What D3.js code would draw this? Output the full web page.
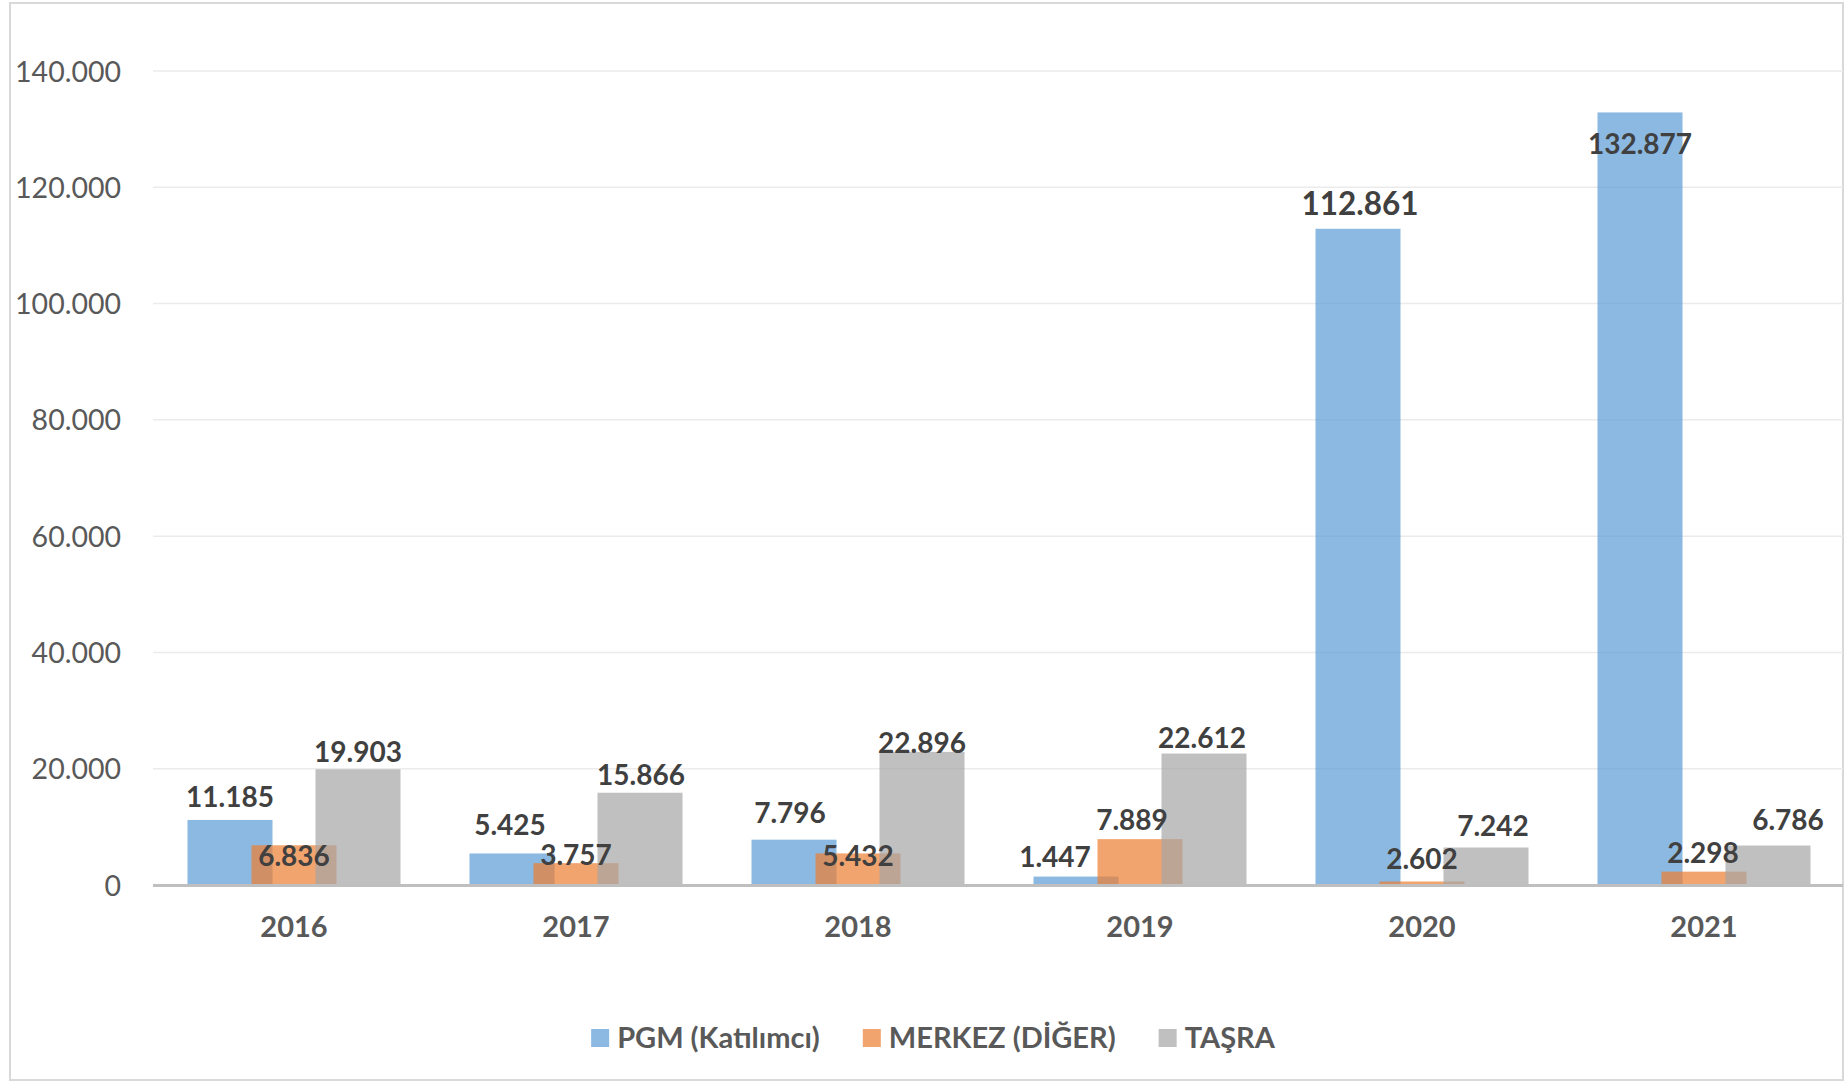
<!DOCTYPE html>
<html>
<head>
<meta charset="utf-8">
<style>
    body { margin: 0; background: #fff; }
    svg { display: block; font-family: Lato, "Open Sans", sans-serif; }
</style>
</head>
<body>
<svg width="1845" height="1081"></svg>

<script src="https://d3js.org/d3.v7.min.js"></script>
<script>
    // data
    var years = ["2016", "2017", "2018", "2019", "2020", "2021"];
    var seriesNames = ["PGM (Katılımcı)", "MERKEZ (DİĞER)", "TAŞRA"];
    // bar heights as drawn in the picture
    var pgm = [11185, 5425, 7796, 1447, 112861, 132877];
    var merkez = [6836, 3757, 5432, 7889, 600, 2298];
    var tasra = [19903, 15866, 22896, 22612, 6450, 6786];
    // printed data labels
    var pgmLabels = [11185, 5425, 7796, 1447, 112861, 132877];
    var merkezLabels = [6836, 3757, 5432, 7889, 2602, 2298];
    var tasraLabels = [19903, 15866, 22896, 22612, 7242, 6786];
    var yTicks = [0, 20000, 40000, 60000, 80000, 100000, 120000, 140000];

    // label nudges (px) relative to bar top centre: [dx, dy of baseline]
    var labelNudge = [
        [[0, -13], [-2, -18], [-4, -17], [-21, -10], [2, -14], [0, 42]],
        [[0, 21], [0, 2], [0, 13], [-8, -9], [0, -13], [-1, -9]],
        [[0, -7], [1, -8], [0, 1], [-2, -6], [7, -11], [20, -16]]
    ];

    var colors = ["#5B9BD5", "#ED7D31", "#A5A5A5"];

    var svg = d3.select("svg"),
        margin = { left: 153, right: 0, top: 71, bottom: 196 },
        W = +svg.attr("width"),
        H = +svg.attr("height");

    var nf = d3.formatLocale({ decimal: ",", thousands: ".", grouping: [3], currency: ["", ""] }).format(",d");

    // chart frame
    svg.append("rect")
        .attr("x", 10).attr("y", 3)
        .attr("width", W - 12).attr("height", H - 4)
        .attr("fill", "#fff")
        .attr("stroke", "#D9D9D9")
        .attr("stroke-width", 2);

    var x0 = d3.scaleBand()
        .domain(years)
        .range([margin.left, W - margin.right])
        .paddingInner(0).paddingOuter(0);

    var barW = 85;
    var x1 = d3.scalePoint()
        .domain(d3.range(seriesNames.length))
        .range([-64, 64]);

    var y = d3.scaleLinear()
        .domain([0, 140000])
        .range([H - margin.bottom, margin.top]);

    // gridlines
    svg.append("g")
        .selectAll("line")
        .data(yTicks.slice(1))
        .enter().append("line")
        .attr("x1", margin.left).attr("x2", W - 2)
        .attr("y1", function (d) { return y(d); })
        .attr("y2", function (d) { return y(d); })
        .attr("stroke", "#EBEBEB")
        .attr("stroke-width", 1.5);

    // y axis labels
    var yAxis = d3.axisLeft(y).tickValues(yTicks).tickFormat(nf).tickSize(0).tickPadding(0);
    var ya = svg.append("g")
        .attr("transform", "translate(121,1)")
        .call(yAxis);
    ya.select(".domain").remove();
    ya.selectAll("text")
        .attr("font-family", "Lato")
        .attr("font-size", 28.5)
        .attr("fill", "#595959");

    // bars
    var series = [pgm, merkez, tasra];
    var labels = [pgmLabels, merkezLabels, tasraLabels];

    series.forEach(function (vals, s) {
        svg.append("g")
            .selectAll("rect")
            .data(vals)
            .enter().append("rect")
            .attr("x", function (d, i) { return x0(years[i]) + x0.bandwidth() / 2 + x1(s) - barW / 2; })
            .attr("y", function (d) { return y(d); })
            .attr("width", barW)
            .attr("height", function (d) { return y(0) - y(d); })
            .attr("fill", colors[s])
            .attr("fill-opacity", 0.7);
    });

    // x axis line
    svg.append("line")
        .attr("x1", margin.left).attr("x2", W - 2)
        .attr("y1", y(0) + 0.5).attr("y2", y(0) + 0.5)
        .attr("stroke", "#BFBFBF")
        .attr("stroke-width", 3);

    // x axis labels
    var xa = svg.append("g")
        .attr("transform", "translate(0," + y(0) + ")")
        .call(d3.axisBottom(x0).tickSize(0).tickPadding(0));
    xa.select(".domain").remove();
    xa.selectAll("text")
        .attr("dy", null)
        .attr("y", 52)
        .attr("font-family", "Lato")
        .attr("font-weight", "bold")
        .attr("font-size", 29)
        .attr("fill", "#595959");

    // data labels
    series.forEach(function (vals, s) {
        svg.append("g")
            .selectAll("text")
            .data(vals)
            .enter().append("text")
            .attr("x", function (d, i) { return x0(years[i]) + x0.bandwidth() / 2 + x1(s) + labelNudge[s][i][0]; })
            .attr("y", function (d, i) { return y(d) + labelNudge[s][i][1]; })
            .attr("text-anchor", "middle")
            .attr("font-weight", "bold")
            .attr("font-size", function (d, i) { return (s === 0 && i === 4) ? 31.5 : 28; })
            .attr("fill", "#404040")
            .text(function (d, i) { return nf(labels[s][i]); });
    });

    // legend
    var legend = svg.append("g")
        .attr("font-weight", "bold")
        .attr("font-size", 29)
        .attr("fill", "#595959");

    var items = legend.selectAll("g")
        .data(seriesNames)
        .enter().append("g");

    items.append("rect")
        .attr("width", 18).attr("height", 18)
        .attr("y", 1029)
        .attr("fill", function (d, i) { return colors[i]; })
        .attr("fill-opacity", 0.7);

    items.append("text")
        .attr("x", 26)
        .attr("y", 1048)
        .text(function (d) { return d; });

    var xpos = 0, offs = [];
    items.each(function () {
        offs.push(xpos);
        xpos += 26 + this.querySelector("text").getComputedTextLength() + 43;
    });
    var total = xpos - 43, start = 933 - total / 2;
    items.attr("transform", function (d, i) { return "translate(" + (start + offs[i]) + ",0)"; });
</script>
</body>
</html>
